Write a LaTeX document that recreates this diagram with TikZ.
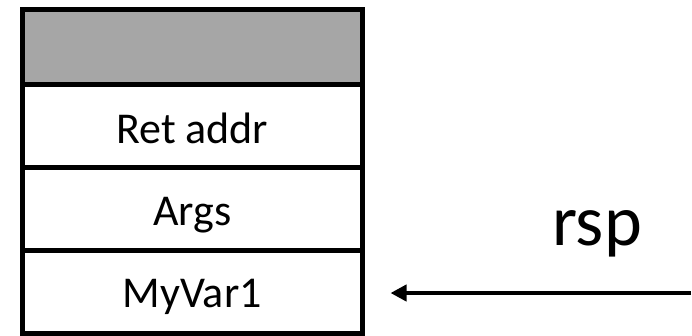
\documentclass[tikz,border=0pt]{standalone}
\usepackage{fontspec}
\setmainfont{Carlito}
\usetikzlibrary{arrows.meta}
\definecolor{cellgray}{HTML}{A6A6A6}
\begin{document}
\begin{tikzpicture}[x=1pt,y=-1pt,
  cell/.style={draw=black, line width=5pt, minimum width=340.5pt, inner sep=0pt,
    font=\fontsize{44}{52}\selectfont, text depth=0pt},
  ptr/.style={line width=4.5pt, -{Triangle[length=16pt,width=16pt]}},
  lbl/.style={font=\fontsize{72}{86}\selectfont, inner sep=0pt, anchor=base}]
\useasboundingbox (0,0) rectangle (692,335);
\node[cell, fill=cellgray, minimum height=75pt] (top) at (192.25,47) {};
\node[cell, minimum height=83pt, text height=34pt] (ret) at (192.25,126) {Ret addr};
\node[cell, minimum height=83pt, text height=32pt] (args) at (192.25,209) {Args};
\node[cell, minimum height=83pt, text height=30pt] (myvar) at (192.25,292) {MyVar1};
\node[lbl] (rsp) at (597,245) {rsp};
\coordinate (rspstart) at (691,293);
\draw[ptr] (rspstart) -- ([xshift=25.5pt,yshift=-1pt]myvar.east);
\end{tikzpicture}
\end{document}
